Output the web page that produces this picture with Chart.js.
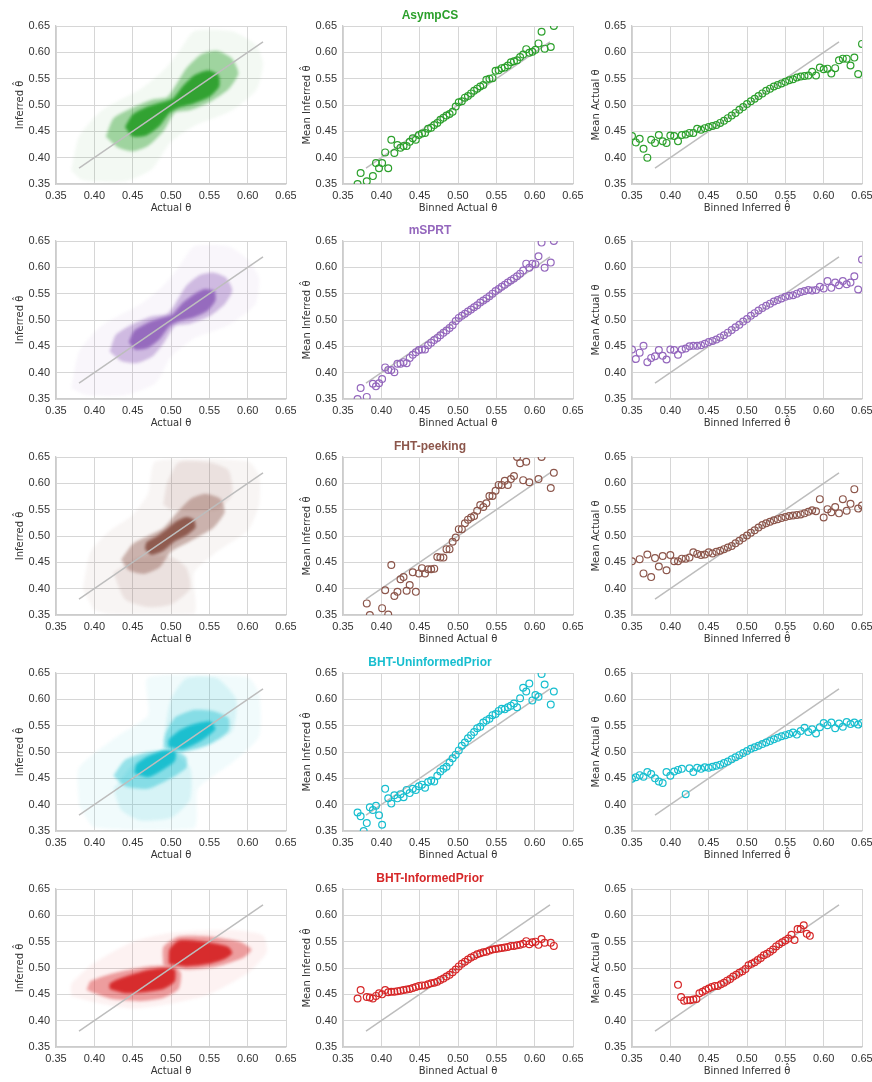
<!DOCTYPE html>
<html>
<head>
<meta charset="utf-8">
<script src="https://cdn.jsdelivr.net/npm/chart.js@4.4.0/dist/chart.umd.min.js"></script>
<style>
  body { margin: 0; background: #fff; width: 872px; height: 1082px; position: relative; overflow: hidden; }
  canvas { position: absolute; }
</style>
</head>
<body>
<script>
const FONT = '"Liberation Sans", Arial, Helvetica, sans-serif';
const LABEL_FONT = '"DejaVu Sans", "Liberation Sans", sans-serif';

// Methods, one per row
const methods = ['AsympCS', 'mSPRT', 'FHT-peeking', 'BHT-UninformedPrior', 'BHT-InformedPrior'];
const methodColors = ['#2ca02c', '#9467bd', '#8c564b', '#17becf', '#d62728'];

const tickValues = [0.35, 0.40, 0.45, 0.50, 0.55, 0.60, 0.65];
const diagonal = [0.38, 0.62];

// Middle column: binned actual theta -> mean inferred theta
const binnedActual = [
  0.369, 0.373, 0.377, 0.381, 0.385, 0.389, 0.393, 0.397, 0.401, 0.405,
  0.409, 0.413, 0.417, 0.421, 0.425, 0.429, 0.433, 0.437, 0.441, 0.445,
  0.449, 0.453, 0.457, 0.461, 0.465, 0.469, 0.473, 0.477, 0.481, 0.485,
  0.489, 0.493, 0.497, 0.501, 0.505, 0.509, 0.513, 0.517, 0.521, 0.525,
  0.529, 0.533, 0.537, 0.541, 0.545, 0.549, 0.553, 0.557, 0.561, 0.565,
  0.569, 0.573, 0.577, 0.581, 0.585, 0.589, 0.593, 0.597, 0.601, 0.605,
  0.609, 0.613, 0.617, 0.621, 0.625
];
const asympMeanInferred = [
  0.350, 0.371, null, 0.355, null, 0.365, 0.390, 0.380, 0.390, 0.410,
  0.380, 0.434, 0.409, 0.424, 0.419, 0.422, 0.422, 0.430, 0.437, 0.434,
  0.443, 0.446, 0.447, 0.455, 0.457, 0.462, 0.466, 0.472, 0.476, 0.480,
  0.483, 0.487, 0.497, 0.505, 0.507, 0.514, 0.517, 0.522, 0.527, 0.531,
  0.535, 0.538, 0.548, 0.550, 0.551, 0.565, 0.566, 0.570, 0.571, 0.575,
  0.581, 0.583, 0.585, 0.591, 0.596, 0.606, 0.599, 0.601, 0.605, 0.617,
  0.639, 0.607, null, 0.610, 0.650
];
const msprtMeanInferred = [
  0.350, 0.371, null, 0.354, null, 0.379, 0.374, 0.380, 0.388, 0.410,
  0.405, 0.405, 0.401, 0.417, 0.417, 0.420, 0.418, 0.428, 0.434, 0.439,
  0.443, 0.444, 0.444, 0.452, 0.457, 0.462, 0.466, 0.471, 0.476, 0.480,
  0.485, 0.490, 0.498, 0.504, 0.508, 0.512, 0.516, 0.520, 0.524, 0.528,
  0.533, 0.537, 0.541, 0.545, 0.550, 0.555, 0.559, 0.563, 0.567, 0.571,
  0.575, 0.579, 0.583, 0.588, 0.594, 0.607, 0.599, 0.607, 0.606, 0.621,
  0.647, 0.599, null, 0.609, 0.650
];
const fhtMeanInferred = [
  null, null, null, 0.372, 0.350, null, null, null, 0.363, 0.397,
  0.351, 0.445, 0.386, 0.394, 0.418, 0.422, 0.396, 0.407, 0.431, 0.394,
  0.429, 0.439, 0.429, 0.437, 0.437, 0.438, 0.460, 0.459, 0.459, 0.475,
  0.475, 0.489, 0.497, 0.513, 0.513, 0.524, 0.531, 0.535, 0.538, 0.548,
  0.559, 0.555, 0.562, 0.576, 0.576, 0.586, 0.597, 0.597, 0.605, 0.597,
  0.608, 0.614, 0.650, 0.638, 0.606, 0.641, 0.602, null, null, 0.608,
  0.650, null, null, 0.591, 0.620
];
const uninformedMeanInferred = [
  0.385, 0.378, 0.350, 0.365, 0.395, 0.390, 0.398, 0.380, 0.362, 0.430,
  0.412, 0.402, 0.418, 0.412, 0.420, 0.414, 0.428, 0.422, 0.430, 0.428,
  0.435, 0.438, 0.432, 0.443, 0.446, 0.444, 0.455, 0.463, 0.468, 0.472,
  0.480, 0.488, 0.495, 0.503, 0.512, 0.518, 0.526, 0.532, 0.538, 0.545,
  0.548, 0.556, 0.560, 0.563, 0.570, 0.572, 0.578, 0.582, 0.581, 0.585,
  0.588, 0.592, 0.585, 0.602, 0.622, 0.615, 0.630, 0.598, 0.608, 0.605,
  0.648, 0.628, null, 0.590, 0.615
];
const informedMeanInferred = [
  0.442, 0.458, null, 0.445, 0.444, 0.442, 0.447, 0.452, 0.450, 0.458,
  0.454, 0.455, 0.455, 0.456, 0.457, 0.458, 0.459, 0.460, 0.462, 0.464,
  0.466, 0.467, 0.467, 0.469, 0.471, 0.472, 0.474, 0.477, 0.480, 0.484,
  0.487, 0.492, 0.497, 0.503, 0.508, 0.512, 0.516, 0.520, 0.523, 0.526,
  0.528, 0.530, 0.531, 0.533, 0.535, 0.536, 0.537, 0.538, 0.539, 0.540,
  0.542, 0.542, 0.543, 0.544, 0.546, 0.551, 0.545, 0.549, 0.550, 0.544,
  0.555, 0.548, null, 0.548, 0.542
];

// Right column: binned inferred theta -> mean actual theta
const binnedInferred = [
  0.350, 0.355, 0.360, 0.365, 0.370, 0.375, 0.380, 0.385, 0.390, 0.395,
  0.400, 0.405, 0.410, 0.415, 0.420, 0.425, 0.430, 0.435, 0.440, 0.445,
  0.450, 0.455, 0.460, 0.465, 0.470, 0.475, 0.480, 0.485, 0.490, 0.495,
  0.500, 0.505, 0.510, 0.515, 0.520, 0.525, 0.530, 0.535, 0.540, 0.545,
  0.550, 0.555, 0.560, 0.565, 0.570, 0.575, 0.580, 0.585, 0.590, 0.595,
  0.600, 0.605, 0.610, 0.615, 0.620, 0.625, 0.630, 0.635, 0.640, 0.645,
  0.650
];
const asympMeanActual = [
  0.441, 0.429, 0.436, 0.417, 0.400, 0.434, 0.428, 0.443, 0.431, 0.428,
  0.442, 0.441, 0.431, 0.443, 0.444, 0.447, 0.447, 0.455, 0.453, 0.456,
  0.458, 0.460, 0.462, 0.466, 0.470, 0.475, 0.480, 0.485, 0.491, 0.496,
  0.502, 0.507, 0.512, 0.517, 0.522, 0.527, 0.531, 0.535, 0.538, 0.541,
  0.544, 0.547, 0.549, 0.552, 0.554, 0.555, 0.556, 0.563, 0.556, 0.571,
  0.568, 0.569, 0.560, 0.570, 0.585, 0.588, 0.588, 0.575, 0.590, 0.559,
  0.616
];
const msprtMeanActual = [
  0.444, 0.426, 0.438, 0.451, 0.420, 0.428, 0.431, 0.443, 0.432, 0.425,
  0.444, 0.443, 0.434, 0.444, 0.446, 0.450, 0.451, 0.451, 0.452, 0.455,
  0.458, 0.460, 0.463, 0.467, 0.471, 0.476, 0.481, 0.486, 0.491, 0.497,
  0.502, 0.508, 0.513, 0.518, 0.523, 0.527, 0.531, 0.535, 0.538, 0.541,
  0.544, 0.546, 0.547, 0.550, 0.553, 0.555, 0.557, 0.556, 0.557, 0.563,
  0.560, 0.574, 0.561, 0.571, 0.566, 0.574, 0.568, 0.571, 0.583, 0.558,
  0.615
];
const fhtMeanActual = [
  0.452, null, 0.456, 0.429, 0.465, 0.422, 0.458, 0.442, 0.462, 0.435,
  0.464, 0.452, 0.452, 0.457, 0.457, 0.459, 0.469, 0.466, 0.464, 0.465,
  0.469, 0.467, 0.470, 0.472, 0.475, 0.478, 0.481, 0.486, 0.491, 0.496,
  0.501, 0.506, 0.511, 0.516, 0.521, 0.524, 0.527, 0.530, 0.532, 0.534,
  0.536, 0.538, 0.539, 0.540, 0.541, 0.543, 0.546, 0.549, 0.547, 0.570,
  0.535, 0.551, 0.545, 0.555, 0.543, 0.570, 0.548, 0.561, 0.589, 0.552,
  0.558
];
const uninformedMeanActual = [
  0.449, 0.452, 0.456, 0.453, 0.462, 0.458, 0.450, 0.444, 0.441, 0.462,
  0.455, 0.463, 0.466, 0.468, 0.420, 0.469, 0.462, 0.470, 0.468, 0.471,
  0.470, 0.472, 0.474, 0.476, 0.479, 0.482, 0.486, 0.490, 0.494, 0.498,
  0.502, 0.506, 0.509, 0.512, 0.515, 0.518, 0.521, 0.524, 0.527, 0.530,
  0.532, 0.534, 0.537, 0.533, 0.540, 0.546, 0.538, 0.543, 0.535, 0.547,
  0.555, 0.551, 0.556, 0.545, 0.554, 0.548, 0.557, 0.553, 0.556, 0.552,
  0.555
];
const informedBinnedInferred = [
  0.410, 0.414, 0.418, 0.422, 0.426, 0.430, 0.434, 0.438, 0.442, 0.446,
  0.450, 0.454, 0.458, 0.462, 0.466, 0.470, 0.474, 0.478, 0.482, 0.486,
  0.490, 0.494, 0.498, 0.502, 0.506, 0.510, 0.514, 0.518, 0.522, 0.526,
  0.530, 0.534, 0.538, 0.542, 0.546, 0.550, 0.554, 0.558, 0.562, 0.566,
  0.570, 0.574, 0.578, 0.582
];
const informedMeanActual = [
  0.468, 0.445, 0.438, 0.439, 0.439, 0.440, 0.441, 0.452, 0.455, 0.458,
  0.461, 0.464, 0.466, 0.466, 0.469, 0.472, 0.476, 0.479, 0.484, 0.487,
  0.491, 0.494, 0.498, 0.505, 0.508, 0.511, 0.515, 0.519, 0.524, 0.527,
  0.531, 0.535, 0.541, 0.545, 0.549, 0.552, 0.556, 0.563, 0.553, 0.574,
  0.574, 0.581, 0.565, 0.561
];

// Left column: outlines of the (actual, inferred) point clouds.
// Each layer is a list of polygons of [actual, inferred] vertices.
const asympHalo = [[[0.37,0.375],[0.385,0.357],[0.44,0.355],[0.475,0.378],[0.50,0.43],[0.53,0.46],[0.58,0.49],[0.612,0.53],[0.62,0.58],[0.61,0.615],[0.58,0.64],[0.53,0.64],[0.51,0.60],[0.49,0.565],[0.46,0.53],[0.41,0.49],[0.38,0.44]]];
const asympMid = [[[0.415,0.44],[0.43,0.42],[0.45,0.412],[0.47,0.422],[0.49,0.45],[0.505,0.485],[0.525,0.49],[0.55,0.505],[0.575,0.53],[0.588,0.56],[0.58,0.588],[0.56,0.603],[0.54,0.597],[0.52,0.57],[0.505,0.535],[0.495,0.515],[0.475,0.51],[0.45,0.495],[0.425,0.475]]];
const asympCore = [[[0.44,0.458],[0.45,0.44],[0.468,0.442],[0.485,0.46],[0.498,0.485],[0.51,0.495],[0.53,0.503],[0.55,0.515],[0.563,0.535],[0.562,0.557],[0.548,0.566],[0.53,0.556],[0.515,0.535],[0.503,0.513],[0.49,0.506],[0.47,0.497],[0.45,0.482]]];

const msprtHalo = [[[0.37,0.37],[0.39,0.357],[0.44,0.357],[0.48,0.38],[0.50,0.43],[0.53,0.465],[0.575,0.49],[0.61,0.53],[0.615,0.58],[0.60,0.615],[0.575,0.64],[0.53,0.64],[0.51,0.60],[0.49,0.565],[0.46,0.53],[0.41,0.49],[0.38,0.44]]];
const msprtMid = [[[0.42,0.44],[0.435,0.422],[0.455,0.418],[0.475,0.43],[0.49,0.455],[0.505,0.488],[0.525,0.493],[0.55,0.507],[0.57,0.53],[0.58,0.556],[0.572,0.58],[0.555,0.59],[0.537,0.585],[0.52,0.565],[0.505,0.53],[0.495,0.512],[0.475,0.507],[0.45,0.492],[0.428,0.472]]];
const msprtCore = [[[0.445,0.458],[0.453,0.444],[0.47,0.447],[0.486,0.465],[0.498,0.488],[0.51,0.497],[0.53,0.505],[0.548,0.518],[0.558,0.537],[0.557,0.555],[0.544,0.559],[0.53,0.549],[0.514,0.531],[0.502,0.511],[0.49,0.505],[0.47,0.495],[0.452,0.48]]];

const fhtHalo = [[[0.385,0.40],[0.40,0.36],[0.42,0.352],[0.53,0.352],[0.53,0.43],[0.56,0.47],[0.60,0.51],[0.615,0.56],[0.615,0.615],[0.60,0.642],[0.48,0.642],[0.47,0.58],[0.45,0.54],[0.42,0.51],[0.395,0.47]]];
const fhtHaze = [
  [[0.49,0.56],[0.50,0.55],[0.56,0.55],[0.58,0.58],[0.575,0.625],[0.55,0.64],[0.51,0.64],[0.495,0.60]],
  [[0.425,0.43],[0.44,0.38],[0.47,0.365],[0.50,0.37],[0.525,0.40],[0.52,0.44],[0.50,0.46],[0.46,0.46]]
];
const fhtMid = [[[0.435,0.455],[0.445,0.435],[0.465,0.428],[0.485,0.44],[0.50,0.47],[0.525,0.49],[0.555,0.515],[0.57,0.545],[0.565,0.57],[0.545,0.58],[0.525,0.57],[0.505,0.54],[0.49,0.515],[0.47,0.50],[0.45,0.485]]];
const fhtCore = [[[0.466,0.476],[0.474,0.464],[0.49,0.472],[0.505,0.49],[0.522,0.503],[0.532,0.516],[0.53,0.531],[0.52,0.536],[0.507,0.528],[0.494,0.513],[0.48,0.498],[0.468,0.488]]];

const uninformedHalo = [[[0.38,0.40],[0.40,0.357],[0.53,0.355],[0.535,0.43],[0.58,0.48],[0.615,0.53],[0.615,0.61],[0.60,0.642],[0.47,0.642],[0.47,0.57],[0.43,0.53],[0.38,0.47]]];
const uninformedHaze = [
  [[0.425,0.43],[0.435,0.39],[0.46,0.37],[0.50,0.375],[0.525,0.41],[0.525,0.47],[0.50,0.50],[0.46,0.49]],
  [[0.49,0.52],[0.50,0.50],[0.545,0.51],[0.58,0.54],[0.585,0.60],[0.56,0.64],[0.52,0.64],[0.50,0.60]]
];
const uninformedMid = [
  [[0.425,0.455],[0.44,0.435],[0.47,0.43],[0.50,0.45],[0.52,0.47],[0.52,0.49],[0.505,0.503],[0.47,0.50],[0.44,0.485]],
  [[0.49,0.507],[0.515,0.50],[0.55,0.515],[0.575,0.54],[0.575,0.565],[0.555,0.578],[0.53,0.58],[0.505,0.565],[0.493,0.535]]
];
const uninformedCore = [
  [[0.452,0.46],[0.47,0.452],[0.49,0.467],[0.505,0.483],[0.506,0.5],[0.49,0.503],[0.47,0.492],[0.455,0.477]],
  [[0.497,0.51],[0.515,0.505],[0.54,0.522],[0.558,0.543],[0.552,0.558],[0.53,0.553],[0.51,0.54],[0.497,0.523]]
];

const informedHalo = [[[0.37,0.447],[0.40,0.435],[0.45,0.423],[0.50,0.432],[0.55,0.45],[0.60,0.49],[0.625,0.53],[0.62,0.562],[0.58,0.572],[0.50,0.567],[0.45,0.55],[0.40,0.51],[0.37,0.47]]];
const informedMid = [
  [[0.39,0.458],[0.42,0.442],[0.46,0.437],[0.49,0.443],[0.51,0.46],[0.513,0.49],[0.505,0.503],[0.47,0.503],[0.43,0.492],[0.395,0.475]],
  [[0.49,0.505],[0.52,0.497],[0.56,0.503],[0.595,0.52],[0.605,0.535],[0.59,0.55],[0.55,0.56],[0.51,0.56],[0.49,0.54]]
];
const informedCore = [
  [[0.42,0.46],[0.44,0.452],[0.47,0.455],[0.49,0.46],[0.505,0.475],[0.505,0.497],[0.49,0.50],[0.47,0.496],[0.45,0.488],[0.43,0.478],[0.42,0.47]],
  [[0.497,0.508],[0.52,0.503],[0.55,0.508],[0.57,0.517],[0.58,0.528],[0.575,0.54],[0.555,0.547],[0.53,0.552],[0.51,0.552],[0.498,0.535]]
];

const meanInferredByMethod = [asympMeanInferred, msprtMeanInferred, fhtMeanInferred, uninformedMeanInferred, informedMeanInferred];
const binsInferredByMethod = [binnedInferred, binnedInferred, binnedInferred, binnedInferred, informedBinnedInferred];
const meanActualByMethod = [asympMeanActual, msprtMeanActual, fhtMeanActual, uninformedMeanActual, informedMeanActual];
// layers drawn from faintest to densest: [halo, haze, mid, core]
const cloudByMethod = [
  [asympHalo, [], asympMid, asympCore],
  [msprtHalo, [], msprtMid, msprtCore],
  [fhtHalo, fhtHaze, fhtMid, fhtCore],
  [uninformedHalo, uninformedHaze, uninformedMid, uninformedCore],
  [informedHalo, [], informedMid, informedCore]
];
const layerAlpha = [0.06, 0.12, 0.42, 0.95];

// Page layout (plot area boxes)
const plotLefts = [56, 343, 632];
const plotTops = [26, 241, 457, 673, 889];
const plotW = 230, plotH = 158;
const AXIS_W = 56, AXIS_H = 32, PAD_TOP = 25, PAD_RIGHT = 10;

function rgba(hex, a) {
  const n = parseInt(hex.slice(1), 16);
  return `rgba(${(n >> 16) & 255}, ${(n >> 8) & 255}, ${n & 255}, ${a})`;
}

function toPoints(xs, ys) {
  return xs.map((x, i) => ({ x: x, y: ys[i] })).filter(p => p.y !== null);
}

function polygon(poly) {
  const pts = poly.map(([x, y]) => ({ x: x, y: y }));
  pts.push(pts[0]);
  return pts;
}

// soften the edges of the cloud fills so they read like dense scatter
const softCloud = {
  id: 'softCloud',
  beforeDatasetsDraw(chart) {
    const ds = chart.data.datasets;
    chart.ctx.filter = ds[ds.length - 1].cloud ? 'blur(1.8px)' : 'none';
  },
  afterDatasetDraw(chart, args) {
    const next = chart.data.datasets[args.index - 1];
    chart.ctx.filter = next && next.cloud ? 'blur(1.8px)' : 'none';
  },
  afterDatasetsDraw(chart) {
    chart.ctx.filter = 'none';
  }
};

function axis(label, isY) {
  return {
    type: 'linear',
    min: 0.35,
    max: 0.65,
    afterBuildTicks: s => { s.ticks = tickValues.map(v => ({ value: v })); },
    afterFit: s => {
      if (isY) s.width = AXIS_W; else s.height = AXIS_H;
      s.paddingLeft = 0; s.paddingRight = 0; s.paddingTop = 0; s.paddingBottom = 0;
    },
    grid: { color: '#d6d6d6', lineWidth: 1, drawTicks: false },
    border: { color: '#cccccc', width: 1.3 },
    ticks: {
      color: '#333',
      font: { size: 11, family: FONT },
      padding: isY ? 6 : 5,
      maxRotation: 0,
      autoSkip: false,
      callback: v => v.toFixed(2)
    },
    title: {
      display: true,
      text: label,
      color: '#333',
      font: { size: 10, family: LABEL_FONT },
      padding: isY ? { top: 14, bottom: 0 } : { top: 0, bottom: 2 }
    }
  };
}

function diagonalDataset() {
  return {
    data: [{ x: diagonal[0], y: diagonal[0] }, { x: diagonal[1], y: diagonal[1] }],
    showLine: true,
    borderColor: '#bdbdbd',
    borderWidth: 1.5,
    pointRadius: 0,
    fill: false
  };
}

function circlesDataset(points, color) {
  return {
    data: points,
    showLine: false,
    pointRadius: 3.4,
    pointBorderWidth: 1.2,
    pointBackgroundColor: 'rgba(0,0,0,0)',
    pointBorderColor: color,
    borderColor: color
  };
}

function makeChart(row, col, datasets, xLabel, yLabel, title) {
  const canvas = document.createElement('canvas');
  const w = AXIS_W + plotW + PAD_RIGHT, h = PAD_TOP + plotH + AXIS_H;
  canvas.width = w; canvas.height = h;
  canvas.style.left = (plotLefts[col] - AXIS_W) + 'px';
  canvas.style.top = (plotTops[row] - PAD_TOP) + 'px';
  canvas.style.width = w + 'px';
  canvas.style.height = h + 'px';
  document.body.appendChild(canvas);

  const titleSize = 12, titlePadBottom = 3;
  const padTop = title ? PAD_TOP - (titleSize * 1.2 + titlePadBottom) : PAD_TOP;

  new Chart(canvas.getContext('2d'), {
    type: 'scatter',
    data: { datasets: datasets },
    plugins: [softCloud],
    options: {
      responsive: false,
      animation: false,
      events: [],
      layout: { padding: { top: padTop, right: PAD_RIGHT, bottom: 0, left: 0 }, autoPadding: false },
      plugins: {
        legend: { display: false },
        tooltip: { enabled: false },
        title: {
          display: !!title,
          text: title || '',
          color: methodColors[row],
          font: { size: titleSize, weight: 'bold', family: FONT },
          padding: { top: 0, bottom: titlePadBottom }
        }
      },
      scales: {
        x: axis(xLabel, false),
        y: axis(yLabel, true)
      }
    }
  });
}

methods.forEach((method, row) => {
  const color = methodColors[row];

  // Left: scatter of inferred vs actual, drawn as density layers
  const cloudSets = [];
  cloudByMethod[row].forEach((layer, li) => {
    layer.forEach(poly => {
      cloudSets.push({
        cloud: true,
        data: polygon(poly),
        showLine: true,
        tension: 0.2,
        borderColor: 'rgba(0,0,0,0)',
        borderWidth: 0,
        pointRadius: 0,
        backgroundColor: rgba(color, layerAlpha[li]),
        fill: 'shape'
      });
    });
  });
  // first dataset is drawn on top, so reverse to keep the core above the halo
  makeChart(row, 0, [diagonalDataset()].concat(cloudSets.reverse()),
    'Actual θ', 'Inferred θ̂');

  // Middle: binned actual -> mean inferred
  makeChart(row, 1, [
    circlesDataset(toPoints(binnedActual, meanInferredByMethod[row]), color),
    diagonalDataset()
  ], 'Binned Actual θ', 'Mean Inferred θ̂', method);

  // Right: binned inferred -> mean actual
  makeChart(row, 2, [
    circlesDataset(toPoints(binsInferredByMethod[row], meanActualByMethod[row]), color),
    diagonalDataset()
  ], 'Binned Inferred θ̂', 'Mean Actual θ');
});
</script>
</body>
</html>
